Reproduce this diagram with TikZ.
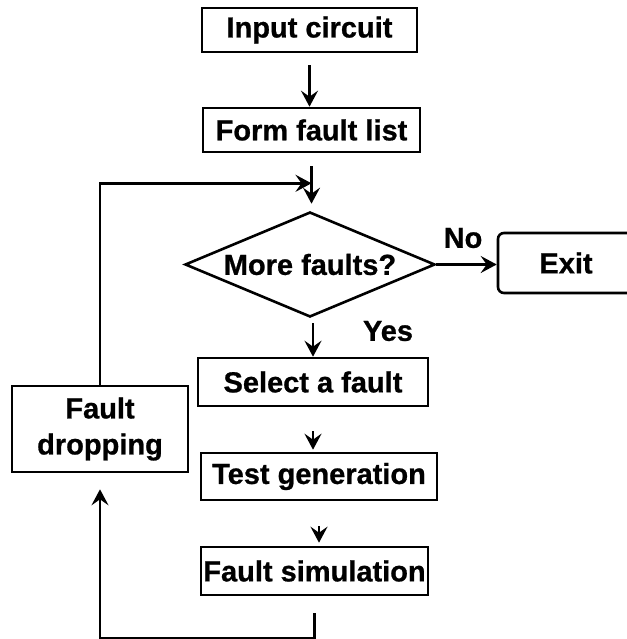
\documentclass[tikz,border=0pt]{standalone}
\usepackage{fontspec}
\setmainfont[BoldFeatures={FakeBold=0.8}]{Liberation Sans}
\usetikzlibrary{arrows.meta, positioning, shapes.geometric}
\tikzset{
  stepbox/.style={draw, line width=2.6pt, inner sep=0pt, align=center,
    font=\bfseries\fontsize{29}{36}\selectfont},
  choice/.style={stepbox, diamond, aspect=2.38},
  steplab/.style={inner sep=0pt, font=\bfseries\fontsize{29}{33}\selectfont},
  flowarr/.style={line width=2.6pt, -{Stealth[length=16pt,width=17pt,inset=6pt]}}
}

\begin{document}
\begin{tikzpicture}[x=1pt,y=-1pt]
\useasboundingbox (0,0) rectangle (626,639);
\node[stepbox, minimum width=215pt, minimum height=44pt] (input) at (309.5,30) {Input circuit};
\node[stepbox, minimum width=217pt, minimum height=44pt] (form) at (311.5,130) {Form fault list};
\node[choice, minimum width=250pt, minimum height=105pt] (more) at (310,264.5) {More faults?};
\node[stepbox, rounded corners=6pt, minimum width=136pt, minimum height=60pt] (exit) at (566,263) {Exit};
\node[stepbox, minimum width=230pt, minimum height=48pt] (select) at (313,382) {Select a fault};
\node[stepbox, minimum width=236pt, minimum height=47pt] (testgen) at (319,476.5) {Test generation};
\node[stepbox, minimum width=227pt, minimum height=48pt] (fsim) at (314.5,571) {Fault simulation};
\node[stepbox, minimum width=176pt, minimum height=86pt] (drop) at (100,429) {Fault\\dropping};
\node[steplab] (nolab) at (463,238) {No};
\node[steplab] (yeslab) at (388,331) {Yes};

\draw[flowarr] ([yshift=-12pt]input.south) -- (input.south |- form.north);
\draw[flowarr, shorten >=7pt] ([yshift=-13pt]form.south) -- (form.south |- more.north);
\draw[flowarr] (drop.north) |- ([yshift=-30pt]form.south);
\draw[flowarr] (more.east) -- (more.east -| exit.west);
\draw[flowarr] ([yshift=-5pt]select.north |- more.south) -- (select.north);
\draw[flowarr, shorten >=2pt] ([yshift=-24pt]select.south) -- (select.south |- testgen.north);
\draw[flowarr, shorten >=3pt] ([yshift=-25pt]testgen.south) -- (testgen.south |- fsim.north);
\draw[flowarr, shorten >=16pt] ([yshift=-17pt]fsim.south) -- ++(0,25) -| (drop.south);
\end{tikzpicture}
\end{document}
